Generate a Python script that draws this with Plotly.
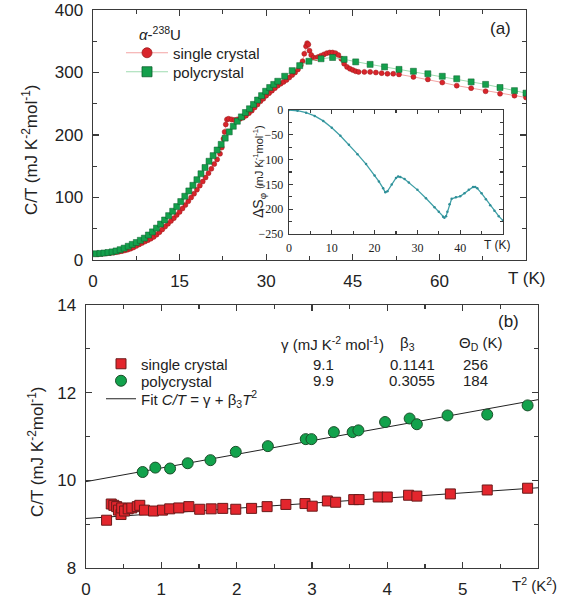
import plotly.graph_objects as go

W, H = 562, 604

# ---------------- panel (a): C/T vs T ----------------
sc_T = [0.4, 0.8, 1.2, 1.6, 2.0, 2.5, 3.0, 3.5, 4.0, 4.5, 5.0, 5.5, 6.0, 6.5, 7.0, 7.5, 8.0, 8.5, 9.0, 9.5,
        10.0, 10.5, 11.0, 11.5, 12.0, 12.5, 13.0, 13.5, 14.0, 14.5, 15.0, 15.5, 16.0, 16.5, 17.0, 17.5, 18.0,
        18.5, 19.0, 19.5, 20.0, 20.5, 21.0, 21.5, 22.0, 22.3, 22.6, 22.8, 23.0, 23.2, 23.5, 24.0, 24.5, 25.0,
        25.5, 26.0, 26.5, 27.0, 27.5, 28.0, 28.5, 29.0, 29.5, 30.0, 30.5, 31.0, 31.5, 32.0, 32.5, 33.0, 33.5,
        34.0, 34.5, 35.0, 35.5, 36.0, 36.3, 36.6, 36.9, 37.1, 37.3, 37.5, 37.8, 38.2, 38.6, 39.0, 39.5, 40.0,
        40.5, 41.0, 41.5, 42.0, 42.5, 43.0, 43.5, 44.0, 44.5, 45.0, 45.5, 46.0, 47.0, 48.0, 49.0, 50.0, 51.0,
        52.0, 53.0, 55.5, 58.0, 60.5, 63.0, 65.5, 68.0, 70.5, 73.0, 75.0]
sc_CT = [9.5, 9.6, 9.8, 10.0, 10.3, 10.7, 11.2, 11.8, 12.5, 13.3, 14.2, 15.3, 16.5, 18.0, 20.0, 22.5, 25.0, 27.3, 29.5, 31.7,
         34.0, 37.0, 40.5, 44.5, 49.0, 53.5, 58.0, 62.5, 67.0, 72.0, 77.0, 82.5, 88.0, 94.0, 100.0, 106.0, 112.5,
         119.0, 125.5, 132.0, 139.0, 146.0, 153.5, 161.0, 170.0, 180.0, 194.0, 205.0, 217.0, 225.0, 226.0, 225.0, 224.0, 225.0,
         226.0, 228.0, 231.0, 235.0, 239.0, 244.0, 249.0, 254.0, 258.0, 263.0, 267.0, 271.0, 275.0, 279.0, 282.0, 285.0, 288.0,
         292.0, 296.0, 300.0, 305.0, 312.0, 318.0, 330.0, 342.0, 347.0, 345.0, 335.0, 328.0, 324.0, 323.0, 325.0, 327.0, 329.0,
         331.0, 332.0, 332.0, 331.0, 328.0, 322.0, 314.0, 309.0, 306.0, 304.0, 302.0, 301.0, 301.0, 301.0, 300.0, 299.0, 298.0,
         298.0, 297.0, 293.0, 289.0, 284.0, 279.0, 275.0, 270.0, 266.0, 263.0, 260.0]

pc_T = [0.5, 1.2, 1.9, 2.6, 3.3, 4.0, 4.7, 5.4, 6.1, 6.8, 7.5, 8.2, 8.9, 9.6, 10.3, 11.0, 11.7, 12.4, 13.1, 13.8,
        14.5, 15.2, 15.9, 16.6, 17.3, 18.0, 18.7, 19.4, 20.1, 20.8, 21.5, 22.2, 22.9, 23.6, 24.3, 25.0, 25.7,
        26.4, 27.1, 27.8, 28.5, 29.2, 29.9, 30.6, 31.3, 32.0, 33.2, 34.5, 35.8, 37.4, 39.5, 41.5, 43.5, 45.5,
        48.0, 50.5, 53.0, 55.5, 58.0, 60.5, 63.0, 65.5, 68.0, 70.5, 73.0, 75.0]
pc_CT = [10.0, 10.5, 11.2, 12.0, 13.0, 14.5, 16.5, 19.0, 22.0, 25.0, 28.0, 31.5, 35.0, 40.0, 45.0, 51.0, 57.5, 64.0, 71.0, 78.0,
         85.5, 93.5, 102.0, 110.5, 119.5, 128.5, 138.0, 148.0, 158.0, 167.0, 176.0, 185.0, 195.0, 205.0, 214.0, 222.0, 229.0,
         236.0, 242.0, 249.0, 256.0, 263.0, 270.0, 276.0, 281.0, 286.0, 294.0, 303.0, 311.0, 318.0, 322.0, 324.0, 321.0, 317.0,
         313.0, 309.0, 305.0, 302.0, 298.0, 294.0, 290.0, 285.0, 281.0, 276.0, 271.0, 267.0]

# inset: phonon entropy difference
inset_T = [0, 2, 4, 6, 8, 10, 12, 14, 16, 18, 20, 21, 22, 22.5, 23, 24, 25, 25.5, 26, 27, 28, 30, 32, 34, 35, 36,
           36.3, 36.7, 37, 37.5, 38, 39, 40, 41, 42, 43, 43.5, 44, 45, 46, 47, 48, 49, 50]
inset_dS = [0, -1.5, -5.5, -12, -22, -36, -52, -70, -89, -109, -132, -144, -158, -166, -164, -150, -137, -134, -135,
            -139, -146, -161, -178, -196, -205, -215, -217, -214, -205, -190, -179, -176, -174, -168, -161, -155,
            -155, -158, -168, -180, -192, -203, -214, -223]

# ---------------- panel (b): C/T vs T^2 ----------------
b_sc_T2 = [0.273, 0.335, 0.369, 0.407, 0.431, 0.465, 0.474, 0.512, 0.56, 0.608, 0.68, 0.714, 0.776, 0.896, 1.015,
           1.111, 1.231, 1.365, 1.509, 1.662, 1.815, 1.988, 2.198, 2.404, 2.653, 2.907, 3.003, 3.204, 3.314, 3.554,
           3.625, 3.879, 3.999, 4.282, 4.392, 4.837, 5.326, 5.862]
b_sc_CT = [9.09, 9.46, 9.43, 9.40, 9.32, 9.22, 9.37, 9.30, 9.35, 9.37, 9.40, 9.43, 9.32, 9.30, 9.32,
           9.35, 9.37, 9.40, 9.34, 9.35, 9.36, 9.34, 9.36, 9.40, 9.45, 9.47, 9.41, 9.53, 9.50, 9.56,
           9.56, 9.62, 9.62, 9.66, 9.64, 9.69, 9.78, 9.82]
b_pc_T2 = [0.752, 0.92, 1.116, 1.35, 1.652, 1.988, 2.414, 2.917, 2.993, 3.29, 3.539, 3.616, 3.97, 4.296, 4.392,
           4.799, 5.326, 5.862]
b_pc_CT = [10.19, 10.29, 10.27, 10.39, 10.46, 10.65, 10.78, 10.94, 10.94, 11.10, 11.10, 11.14, 11.33, 11.41, 11.28,
           11.48, 11.50, 11.71]
fit_T2 = [0, 6]
fit_sc = [9.13, 9.83]
fit_pc = [9.97, 11.84]

table_names = ["single crystal", "polycrystal"]
gamma_vals = ["9.1", "9.9"]
beta_vals = ["0.1141", "0.3055"]
theta_vals = ["256", "184"]

xa_ticks = [0, 15, 30, 45, 60]
ya_ticks = [0, 100, 200, 300, 400]
xb_ticks = [0, 1, 2, 3, 4, 5]
yb_ticks = [8, 10, 12, 14]
xi_ticks = [0, 10, 20, 30, 40]
yi_ticks = [0, -50, -100, -150, -200, -250]

SANS = "Liberation Sans, Arial, sans-serif"
SERIF = "Liberation Serif, Times New Roman, serif"
AX = "#3a3a3a"


def px(x):
    # page pixel -> paper fraction
    return x / W


def py(y):
    return 1 - y / H


RED = "#d9242b"
GREEN = "#14a04c"
PINK = "#f3a3a3"
LGREEN = "#9edbb0"

fig = go.Figure()

fig.add_trace(go.Scatter(x=sc_T, y=sc_CT, mode="lines+markers", showlegend=False,
                         line=dict(color=PINK, width=1),
                         marker=dict(symbol="circle", size=5, color=RED, line=dict(color="#9b1c1c", width=0.5)),
                         xaxis="x", yaxis="y"))
fig.add_trace(go.Scatter(x=pc_T, y=pc_CT, mode="lines+markers", showlegend=False,
                         line=dict(color=LGREEN, width=1),
                         marker=dict(symbol="square", size=6, color=GREEN, line=dict(color="#0b5e2c", width=0.5)),
                         xaxis="x", yaxis="y"))
# legend keys for panel (a) (no data, legend only)
fig.add_trace(go.Scatter(x=[None], y=[None], mode="lines+markers", name="single crystal",
                         line=dict(color=PINK, width=1.2),
                         marker=dict(symbol="circle", size=10, color=RED, line=dict(color="#9b1c1c", width=0.8)),
                         xaxis="x", yaxis="y", legend="legend"))
fig.add_trace(go.Scatter(x=[None], y=[None], mode="lines+markers", name="polycrystal",
                         line=dict(color=LGREEN, width=1.2),
                         marker=dict(symbol="square", size=10, color=GREEN, line=dict(color="#0b5e2c", width=0.8)),
                         xaxis="x", yaxis="y", legend="legend2"))

fig.add_trace(go.Scatter(x=inset_T, y=inset_dS, mode="lines+markers", showlegend=False,
                         line=dict(color="#3f9fa6", width=1.3),
                         marker=dict(size=2.5, color="#2f8f98"),
                         xaxis="x3", yaxis="y3"))

fig.add_trace(go.Scatter(x=fit_T2, y=fit_sc, mode="lines", name="Fit <i>C/T</i> = γ + β<sub>3</sub><i>T</i><sup>2</sup>",
                         line=dict(color="#222", width=1), xaxis="x2", yaxis="y2", legend="legend5"))
fig.add_trace(go.Scatter(x=fit_T2, y=fit_pc, mode="lines", showlegend=False,
                         line=dict(color="#222", width=1), xaxis="x2", yaxis="y2"))
fig.add_trace(go.Scatter(x=b_sc_T2, y=b_sc_CT, mode="markers", name=table_names[0],
                         marker=dict(symbol="square", size=10, color="#e3262d", line=dict(color="#6b1a1a", width=1)),
                         xaxis="x2", yaxis="y2", legend="legend3"))
fig.add_trace(go.Scatter(x=b_pc_T2, y=b_pc_CT, mode="markers", name=table_names[1],
                         marker=dict(symbol="circle", size=11, color="#12a24c", line=dict(color="#1b4f2a", width=1)),
                         xaxis="x2", yaxis="y2", legend="legend4"))


def axis(domain, rng, tickvals, minor_dtick, anchor, font, size, ticklen=6, minlen=4, standoff=5):
    return dict(domain=domain, range=rng, tickmode="array", tickvals=tickvals, anchor=anchor,
                showline=True, linecolor=AX, linewidth=1.4, mirror="allticks", automargin=False,
                ticks="inside", ticklen=ticklen, tickwidth=1.2, tickcolor=AX, ticklabeloverflow="allow",
                minor=dict(ticks="inside", ticklen=minlen, dtick=minor_dtick, tick0=0, tickcolor=AX, tickwidth=1.1),
                showgrid=False, zeroline=False, ticklabelstandoff=standoff,
                tickfont=dict(family=font, size=size, color="#222"))


legend_common = dict(bgcolor="rgba(0,0,0,0)", borderwidth=0, xref="paper", yref="paper",
                     xanchor="left", yanchor="middle", font=dict(family=SANS, size=15, color="#222"))

fig.update_layout(
    width=W, height=H, margin=dict(l=0, r=0, t=0, b=0, autoexpand=False),
    paper_bgcolor="white", plot_bgcolor="white",
    xaxis=axis([px(93), px(526)], [0, 75], xa_ticks, 7.5, "y", SANS, 17),
    yaxis=axis([py(260), py(10)], [0, 400], ya_ticks, 50, "x", SANS, 17),
    xaxis2=axis([px(86), px(538)], [0, 6], xb_ticks, 0.5, "y2", SANS, 17),
    yaxis2=axis([py(568), py(305)], [8, 14], yb_ticks, 1, "x2", SANS, 17),
    xaxis3=axis([px(289), px(503)], [0, 50], xi_ticks, 5, "y3", SERIF, 12, 4, 3, 2),
    yaxis3=axis([py(234), py(110)], [-250, 0], yi_ticks, 25, "x3", SERIF, 12, 4, 3, 2),
    legend=dict(legend_common, x=px(121), y=py(53), itemwidth=42),
    legend2=dict(legend_common, x=px(121), y=py(72), itemwidth=42),
    legend3=dict(legend_common, x=px(101), y=py(364)),
    legend4=dict(legend_common, x=px(101), y=py(381)),
    legend5=dict(legend_common, x=px(101), y=py(399)),
)

ann = []


def text(x, y, s, size=15, family=SANS, xanchor="center", angle=0, color="#222"):
    ann.append(dict(x=px(x), y=py(y), xref="paper", yref="paper", text=s, showarrow=False,
                    xanchor=xanchor, yanchor="middle", textangle=angle,
                    font=dict(family=family, size=size, color=color)))


text(500, 28, "(a)", 17)
text(526, 278, "T (K)", 17)
text(137, 33, "<i>α</i>-<sup>238</sup>U", 15, xanchor="left")
text(30, 150, "C/T (mJ K<sup>-2</sup>mol<sup>-1</sup>)", 17, angle=-90)
text(497, 245, "T (K)", 12, family=SANS)
text(259, 172, "ΔS<sub>φ</sub> <span style='font-size:11px'>(mJ K<sup>-1</sup>mol<sup>-1</sup>)</span>", 14, angle=-90)

text(508, 322, "(b)", 17)
text(559, 584, "T<sup>2</sup> (K<sup>2</sup>)", 15, xanchor="right")
text(36, 452, "C/T (mJ K<sup>-2</sup>mol<sup>-1</sup>)", 17, angle=-90)
text(332, 343, "γ (mJ K<sup>-2</sup> mol<sup>-1</sup>)", 15)
text(407, 343, "β<sub>3</sub>", 15)
text(480, 343, "Θ<sub>D</sub> (K)", 15)
for i, yy in enumerate([364, 381]):
    text(323, yy, gamma_vals[i], 15)
    text(412, yy, beta_vals[i], 15)
    text(475, yy, theta_vals[i], 15)

fig.update_layout(annotations=ann)
# remove the browser's default 8px body margin so the 562x604 figure fills the window
fig.write_html("out.html", config={"displayModeBar": False, "staticPlot": True},
               post_script="document.body.style.margin='0';document.body.style.overflow='hidden';")
